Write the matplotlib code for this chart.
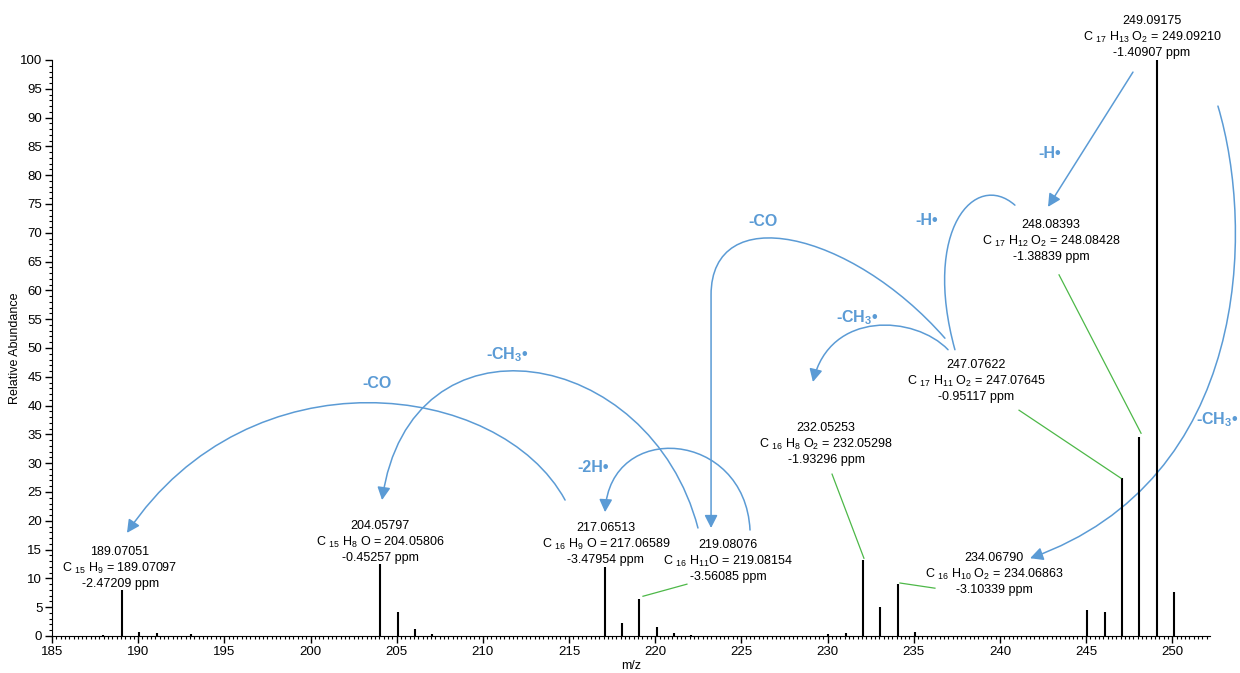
import matplotlib
matplotlib.use('Agg')
import matplotlib.pyplot as plt
from matplotlib.path import Path
from matplotlib.patches import FancyArrowPatch
from matplotlib.ticker import MultipleLocator

plt.rcParams['font.family'] = ['Liberation Sans', 'DejaVu Sans']
plt.rcParams['mathtext.fontset'] = 'custom'
plt.rcParams['mathtext.rm'] = 'Liberation Sans'
plt.rcParams['mathtext.it'] = 'Liberation Sans'
plt.rcParams['mathtext.bf'] = 'Liberation Sans:bold'

BUL = '\u2022'

# ---- data ----
mz = [187.97, 189.07051, 190.07, 191.07, 193.07, 204.05797, 205.06, 206.07, 207.07,
      217.06513, 218.07, 219.08076, 220.08, 221.08, 222.09, 230.05, 231.07,
      232.05253, 233.06, 234.06790, 235.07, 245.07, 246.08, 247.07622, 248.08393,
      249.09175, 250.09]
abundance = [0.2, 7.9, 0.75, 0.5, 0.4, 12.5, 4.1, 1.3, 0.3,
             12.0, 2.3, 6.5, 1.5, 0.5, 0.25, 0.3, 0.6,
             13.2, 5.1, 9.1, 0.75, 4.5, 4.2, 27.4, 34.5,
             100.0, 7.6]

label_mz = ['249.09175', '248.08393', '247.07622', '232.05253', '234.06790',
            '219.08076', '217.06513', '204.05797', '189.07051']
label_formula = [r'C $_{17}$ H$_{13}$ O$_{2}$ = 249.09210',
                 r'C $_{17}$ H$_{12}$ O$_{2}$ = 248.08428',
                 r'C $_{17}$ H$_{11}$ O$_{2}$ = 247.07645',
                 r'C $_{16}$ H$_{8}$ O$_{2}$ = 232.05298',
                 r'C $_{16}$ H$_{10}$ O$_{2}$ = 234.06863',
                 r'C $_{16}$ H$_{11}$O = 219.08154',
                 r'C $_{16}$ H$_{9}$ O = 217.06589',
                 r'C $_{15}$ H$_{8}$ O = 204.05806',
                 r'C $_{15}$ H$_{9}$ = 189.07097']
label_ppm = ['-1.40907 ppm', '-1.38839 ppm', '-0.95117 ppm', '-1.93296 ppm',
             '-3.10339 ppm', '-3.56085 ppm', '-3.47954 ppm', '-0.45257 ppm',
             '-2.47209 ppm']
label_pos = [(248.82, 104.0), (242.96, 68.6), (238.61, 44.3), (229.91, 33.3),
             (239.66, 10.8), (224.22, 13.0), (217.14, 16.0), (204.03, 16.3),
             (188.95, 11.8)]

# leader lines (label -> peak)
leaders = [((243.43, 62.7), (248.19, 35.2)),
           ((241.11, 39.2), (247.02, 27.4)),
           ((230.26, 28.1), (232.11, 13.5)),
           ((236.23, 8.3), (234.20, 9.2)),
           ((221.84, 9.0), (219.29, 6.9))]

CH3 = r'-CH$_\mathbf{3}$' + BUL
loss_text = ['-H' + BUL, '-H' + BUL, '-CO', CH3, CH3, '-CO', '-2H' + BUL, CH3]
loss_pos = [(242.91, 83.7), (235.77, 72.2), (226.25, 72.0), (231.71, 55.2),
            (211.40, 48.8), (203.86, 43.9), (216.39, 29.3), (252.59, 37.5)]

# ---- figure ----
fig = plt.figure(figsize=(12.4, 6.73), dpi=100)
ax = fig.add_axes([0.04194, 0.05498, 0.93387, 0.85587])

ax.vlines(mz, 0, abundance, color='black', lw=1.5)

ax.set_xlim(185, 252.19)
ax.set_ylim(0, 100)
ax.spines['top'].set_visible(False)
ax.spines['right'].set_visible(False)
ax.xaxis.set_major_locator(MultipleLocator(5))
ax.xaxis.set_minor_locator(MultipleLocator(0.25))
ax.yaxis.set_major_locator(MultipleLocator(5))
ax.yaxis.set_minor_locator(MultipleLocator(1))
ax.tick_params(which='major', length=5, width=1, labelsize=9.5, pad=2)
ax.tick_params(which='minor', length=2.5, width=0.8)
ax.set_xlabel('m/z', fontsize=9, labelpad=2)
ax.set_ylabel('Relative Abundance', fontsize=9)
ax.yaxis.set_label_coords(-0.0268, 0.5)

for t1, t2, t3, (x, y) in zip(label_mz, label_formula, label_ppm, label_pos):
    ax.text(x, y, t1 + '\n' + t2 + '\n' + t3, ha='center', va='center',
            fontsize=9, linespacing=1.25, clip_on=False)

green = '#4db848'
for (p0, p1) in leaders:
    ax.plot([p0[0], p1[0]], [p0[1], p1[1]], color=green, lw=0.9, clip_on=False)

blue = '#5b9bd5'
for t, (x, y) in zip(loss_text, loss_pos):
    ax.text(x, y, t, ha='center', va='center', fontsize=11.5, fontweight='bold',
            color=blue, clip_on=False)

head = '-|>,head_length=0.55,head_width=0.28'

def curve(pts, arrow=True):
    codes = [Path.MOVETO, Path.CURVE4, Path.CURVE4, Path.CURVE4] + [Path.LINETO] * (len(pts) - 4)
    p = FancyArrowPatch(path=Path(pts, codes), arrowstyle=head if arrow else '-',
                        mutation_scale=14, color=blue, lw=1.1,
                        transform=ax.transData, clip_on=False)
    ax.add_patch(p)

# 249 -> 248 (-H)
ax.annotate('', xy=(242.79, 74.5), xytext=(247.72, 97.9),
            arrowprops=dict(arrowstyle=head, mutation_scale=14, color=blue, lw=1.1,
                            shrinkA=0, shrinkB=0), annotation_clip=False)
# 248 -> 247 (-H)
curve([(240.87, 74.8), (238.55, 80.9), (235.48, 70.5), (237.39, 49.7)], arrow=False)
# 247 -> 219 (-CO)
curve([(236.81, 51.7), (231.30, 70.5), (223.24, 75.7), (223.24, 59.2), (223.24, 18.75)])
# 247 -> 232 (-CH3)
curve([(236.99, 49.7), (235.07, 55.7), (230.14, 56.6), (229.15, 44.1)])
# 219 -> 204 (-CH3)
curve([(222.48, 18.75), (219.70, 50.5), (205.77, 57.5), (204.15, 23.6)])
# 217 -> 189 (-CO)
curve([(214.77, 23.6), (210.99, 44.4), (196.49, 49.7), (189.35, 17.9)])
# 219 -> 217 (-2H)
curve([(225.50, 18.4), (225.21, 35.8), (217.38, 37.5), (217.09, 21.5)])
# 249 -> 234 (-CH3)
curve([(252.65, 92.0), (254.80, 70.5), (254.51, 27.1), (241.75, 13.5)])

ax.set_xlim(185, 252.19)
ax.set_ylim(0, 100)

fig.savefig('out.png', dpi=100)
